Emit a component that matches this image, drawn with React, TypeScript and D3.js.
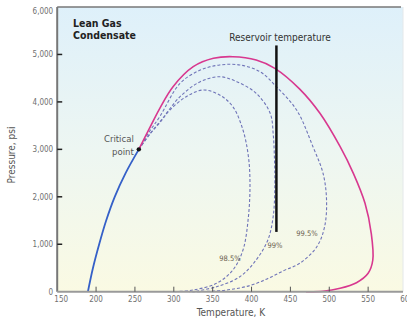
import React from "react";
import * as d3 from "d3";

// phase envelope, lean gas condensate (T in K, P in psi)
const bubbleT = [189.5, 196, 204, 213, 224, 238, 255];
const bubbleP = [0, 500, 1000, 1500, 2000, 2500, 3000];

const dewT = [255, 268, 282, 299, 325, 351, 376, 406, 430, 462, 488, 514, 531, 546, 554, 556, 550, 535, 514, 492, 470];
const dewP = [3000, 3420, 3865, 4320, 4742, 4919, 4953, 4883, 4708, 4270, 3760, 3056, 2495, 1863, 1231, 668, 388, 190, 72, 10, 0];

const q995T = [255, 268, 282, 308, 334, 359, 385, 411, 432, 458, 479, 492, 496.5, 494, 484, 462, 441, 420, 398, 370, 340, 320];
const q995P = [3000, 3360, 3690, 4390, 4670, 4778, 4778, 4636, 4320, 3829, 3056, 2495, 1933, 1370, 948, 598, 440, 270, 130, 40, 5, 0];

const q99T = [255, 270, 285, 308, 334, 359, 381, 406, 424, 428, 429.5, 430, 428, 421, 406, 385, 355, 325];
const q99P = [3000, 3340, 3640, 4110, 4426, 4531, 4426, 4181, 3760, 3300, 2800, 2284, 1600, 1090, 670, 316, 105, 0];

const q985T = [255, 268, 282, 295, 316, 338, 359, 376, 389, 396, 398, 396, 389, 376, 355, 325, 300];
const q985P = [3000, 3300, 3560, 3829, 4110, 4251, 4145, 3899, 3408, 2845, 2284, 1581, 879, 457, 177, 36, 0];

const reservoirT = 432;
const reservoirP = [1260, 5190];
const criticalT = 255;
const criticalP = 3000;

const xTicks = [150, 200, 250, 300, 350, 400, 450, 500, 550, 600];
const yTicks = [0, 1000, 2000, 3000, 4000, 5000, 6000];

const W = 407;
const H = 322;
const left = 57.2;
const right = 407;
const top = 7;
const bottom = 291.7;

const font = "'DejaVu Sans Condensed', 'Liberation Sans', sans-serif";

export default function App() {
  const x = d3.scaleLinear().domain([150, 600]).range([left, right]);
  const y = d3.scaleLinear().domain([0, 6000]).range([bottom, top]);

  const line = d3
    .line<[number, number]>()
    .x((d) => x(d[0]))
    .y((d) => y(d[1]))
    .curve(d3.curveCatmullRom.alpha(0.5));

  const pts = (ts: number[], ps: number[]) => ts.map((t, i) => [t, ps[i]] as [number, number]);
  const fmt = d3.format(",");

  const dashColor = "#6f74b8";

  return (
    <svg width={W} height={H} style={{ position: "absolute", left: 0, top: 0, background: "#fff" }}>
      <defs>
        <linearGradient id="bg" x1="0" y1="0" x2="0" y2="1">
          <stop offset="0" stopColor="#def0fa" />
          <stop offset="0.5" stopColor="#edf6f2" />
          <stop offset="1" stopColor="#fafae3" />
        </linearGradient>
      </defs>
      <rect x={left} y={top} width={403 - left} height={bottom - top} fill="url(#bg)" />
      <line x1={403} x2={403} y1={top} y2={bottom} stroke="#e4e8ea" />
      <line x1={left} x2={401} y1={top} y2={top} stroke="#777" strokeWidth={1.5} />

      {/* curves */}
      <path d={line(pts(q985T, q985P)) ?? ""} fill="none" stroke={dashColor} strokeWidth={1.1} strokeDasharray="3,2" />
      <path d={line(pts(q99T, q99P)) ?? ""} fill="none" stroke={dashColor} strokeWidth={1.1} strokeDasharray="3,2" />
      <path d={line(pts(q995T, q995P)) ?? ""} fill="none" stroke={dashColor} strokeWidth={1.1} strokeDasharray="3,2" />
      <path d={line(pts(dewT, dewP)) ?? ""} fill="none" stroke="#d8388f" strokeWidth={1.6} />
      <path d={line(pts(bubbleT, bubbleP)) ?? ""} fill="none" stroke="#3560c8" strokeWidth={1.8} />

      <line
        x1={x(reservoirT)}
        x2={x(reservoirT)}
        y1={y(reservoirP[0])}
        y2={y(reservoirP[1])}
        stroke="#111"
        strokeWidth={2.5}
      />
      <circle cx={x(criticalT)} cy={y(criticalP)} r={2.2} fill="#111" />

      {/* axes */}
      <line x1={left} x2={left} y1={top} y2={bottom} stroke="#777" strokeWidth={2} />
      <line x1={left} x2={403} y1={bottom} y2={bottom} stroke="#9a9a9a" strokeWidth={2} />
      {yTicks.map((v) => (
        <g key={v}>
          {v > 0 && v < 6000 && <line x1={left} x2={left + 5} y1={y(v)} y2={y(v)} stroke="#222" strokeWidth={1.5} />}
          <text
            x={left - 4}
            y={y(v) + (v === 6000 ? 4 : 0)}
            dy="0.35em"
            textAnchor="end"
            fontFamily={font}
            fontSize={8}
            fill="#707070"
          >
            {fmt(v)}
          </text>
        </g>
      ))}
      {xTicks.map((v) => (
        <g key={v}>
          {v > 150 && v < 600 && <line x1={x(v)} x2={x(v)} y1={bottom} y2={bottom - 5} stroke="#555" strokeWidth={1} />}
          <text x={x(v) + (v === 150 ? 4 : 0)} y={bottom + 10} textAnchor="middle" fontFamily={font} fontSize={8} fill="#707070">
            {v}
          </text>
        </g>
      ))}
      <text x={231} y={316} textAnchor="middle" fontFamily={font} fontSize={10} fill="#555">
        Temperature, K
      </text>
      <text
        transform={`translate(15,155) rotate(-90)`}
        textAnchor="middle"
        fontFamily={font}
        fontSize={10}
        fill="#555"
      >
        Pressure, psi
      </text>

      {/* annotations */}
      <text x={73} y={27} fontFamily={font} fontSize={10.5} fontWeight="bold" fill="#222">
        Lean Gas
      </text>
      <text x={73} y={38.5} fontFamily={font} fontSize={10.5} fontWeight="bold" fill="#222">
        Condensate
      </text>
      <text x={280} y={41} textAnchor="middle" fontFamily={font} fontSize={10} fill="#333">
        Reservoir temperature
      </text>
      <text x={x(criticalT) - 5} y={y(criticalP) - 7} textAnchor="end" fontFamily={font} fontSize={9.5} fill="#555">
        Critical
      </text>
      <text x={x(criticalT) - 5} y={y(criticalP) + 6} textAnchor="end" fontFamily={font} fontSize={9.5} fill="#555">
        point
      </text>
      <text x={230} y={261} textAnchor="middle" fontFamily={font} fontSize={7.5} fill="#6b5f4f">
        98.5%
      </text>
      <text x={275} y={248} textAnchor="middle" fontFamily={font} fontSize={7.5} fill="#6b5f4f">
        99%
      </text>
      <text x={307} y={236} textAnchor="middle" fontFamily={font} fontSize={7.5} fill="#6b5f4f">
        99.5%
      </text>
    </svg>
  );
}
